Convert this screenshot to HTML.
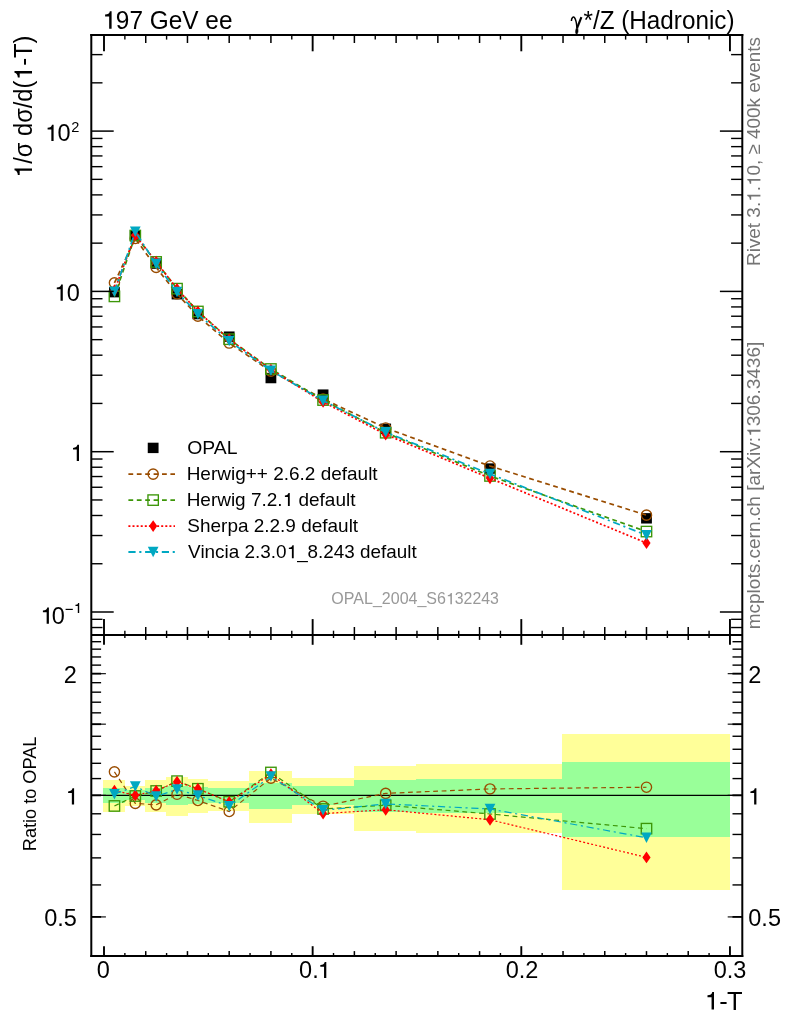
<!DOCTYPE html>
<html><head><meta charset="utf-8"><title>197 GeV ee 1-T</title>
<style>html,body{margin:0;padding:0;background:#fff}svg{display:block;will-change:transform}text{filter:grayscale(1);font-family:"Liberation Sans",sans-serif;fill:#000}.g{fill:#747474}.s{font-family:"Liberation Serif",serif}</style></head><body>
<svg width="786" height="1024" viewBox="0 0 786 1024">
<rect width="786" height="1024" fill="#fff"/>
<g shape-rendering="crispEdges">
<rect x="103.20" y="780.34" width="21.60" height="31.31" fill="#FFFF99"/>
<rect x="124.80" y="785.57" width="20.50" height="20.02" fill="#FFFF99"/>
<rect x="145.30" y="780.34" width="20.70" height="31.31" fill="#FFFF99"/>
<rect x="166.00" y="776.83" width="21.50" height="39.11" fill="#FFFF99"/>
<rect x="187.50" y="779.22" width="20.50" height="33.79" fill="#FFFF99"/>
<rect x="208.00" y="780.82" width="41.30" height="30.25" fill="#FFFF99"/>
<rect x="249.30" y="771.39" width="42.70" height="51.60" fill="#FFFF99"/>
<rect x="292.00" y="778.10" width="61.70" height="36.27" fill="#FFFF99"/>
<rect x="353.70" y="765.67" width="62.50" height="65.31" fill="#FFFF99"/>
<rect x="416.20" y="764.19" width="145.90" height="68.95" fill="#FFFF99"/>
<rect x="562.10" y="733.95" width="168.10" height="156.50" fill="#FFFF99"/>
<rect x="103.20" y="787.66" width="21.60" height="15.63" fill="#99FF99"/>
<rect x="124.80" y="790.37" width="20.50" height="10.00" fill="#99FF99"/>
<rect x="145.30" y="787.66" width="20.70" height="15.63" fill="#99FF99"/>
<rect x="166.00" y="785.82" width="21.50" height="19.50" fill="#99FF99"/>
<rect x="187.50" y="787.07" width="20.50" height="16.86" fill="#99FF99"/>
<rect x="208.00" y="787.91" width="41.30" height="15.10" fill="#99FF99"/>
<rect x="249.30" y="782.94" width="42.70" height="25.66" fill="#99FF99"/>
<rect x="292.00" y="786.49" width="61.70" height="18.09" fill="#99FF99"/>
<rect x="353.70" y="779.86" width="62.50" height="32.38" fill="#99FF99"/>
<rect x="416.20" y="779.06" width="145.90" height="34.15" fill="#99FF99"/>
<rect x="562.10" y="761.96" width="168.10" height="74.55" fill="#99FF99"/>
</g>
<line x1="91.3" y1="795.3" x2="742.3" y2="795.3" stroke="#000" stroke-width="1.3"/>
<polyline points="114.43,771.85 135.30,803.38 156.16,804.85 177.03,794.25 197.89,800.46 229.19,811.46 270.92,778.10 323.08,806.16 385.68,793.38 490.00,788.93 646.49,787.24" fill="none" stroke="#994C00" stroke-width="1.2" stroke-dasharray="4.8 3.6"/>
<circle cx="114.43" cy="771.85" r="5.1" fill="none" stroke="#994C00" stroke-width="1.35"/>
<circle cx="135.30" cy="803.38" r="5.1" fill="none" stroke="#994C00" stroke-width="1.35"/>
<circle cx="156.16" cy="804.85" r="5.1" fill="none" stroke="#994C00" stroke-width="1.35"/>
<circle cx="177.03" cy="794.25" r="5.1" fill="none" stroke="#994C00" stroke-width="1.35"/>
<circle cx="197.89" cy="800.46" r="5.1" fill="none" stroke="#994C00" stroke-width="1.35"/>
<circle cx="229.19" cy="811.46" r="5.1" fill="none" stroke="#994C00" stroke-width="1.35"/>
<circle cx="270.92" cy="778.10" r="5.1" fill="none" stroke="#994C00" stroke-width="1.35"/>
<circle cx="323.08" cy="806.16" r="5.1" fill="none" stroke="#994C00" stroke-width="1.35"/>
<circle cx="385.68" cy="793.38" r="5.1" fill="none" stroke="#994C00" stroke-width="1.35"/>
<circle cx="490.00" cy="788.93" r="5.1" fill="none" stroke="#994C00" stroke-width="1.35"/>
<circle cx="646.49" cy="787.24" r="5.1" fill="none" stroke="#994C00" stroke-width="1.35"/>
<polyline points="114.43,805.97 135.30,796.00 156.16,790.97 177.03,781.15 197.89,788.76 229.19,801.73 270.92,772.46 323.08,808.98 385.68,805.23 490.00,813.98 646.49,828.63" fill="none" stroke="#3C9608" stroke-width="1.2" stroke-dasharray="4.8 3.6"/>
<rect x="109.23" y="800.77" width="10.4" height="10.4" fill="none" stroke="#3C9608" stroke-width="1.35"/>
<rect x="130.10" y="790.80" width="10.4" height="10.4" fill="none" stroke="#3C9608" stroke-width="1.35"/>
<rect x="150.96" y="785.77" width="10.4" height="10.4" fill="none" stroke="#3C9608" stroke-width="1.35"/>
<rect x="171.83" y="775.95" width="10.4" height="10.4" fill="none" stroke="#3C9608" stroke-width="1.35"/>
<rect x="192.69" y="783.56" width="10.4" height="10.4" fill="none" stroke="#3C9608" stroke-width="1.35"/>
<rect x="223.99" y="796.53" width="10.4" height="10.4" fill="none" stroke="#3C9608" stroke-width="1.35"/>
<rect x="265.72" y="767.26" width="10.4" height="10.4" fill="none" stroke="#3C9608" stroke-width="1.35"/>
<rect x="317.88" y="803.78" width="10.4" height="10.4" fill="none" stroke="#3C9608" stroke-width="1.35"/>
<rect x="380.48" y="800.03" width="10.4" height="10.4" fill="none" stroke="#3C9608" stroke-width="1.35"/>
<rect x="484.80" y="808.78" width="10.4" height="10.4" fill="none" stroke="#3C9608" stroke-width="1.35"/>
<rect x="641.29" y="823.43" width="10.4" height="10.4" fill="none" stroke="#3C9608" stroke-width="1.35"/>
<polyline points="114.43,790.63 135.30,795.30 156.16,790.63 177.03,781.80 197.89,788.76 229.19,801.91 270.92,774.17 323.08,813.59 385.68,809.74 490.00,819.73 646.49,857.38" fill="none" stroke="#FF0000" stroke-width="1.2" stroke-dasharray="2 2.1"/>
<path d="M114.43 784.68L118.53 790.63L114.43 796.58L110.33 790.63Z" fill="#FF0000"/>
<path d="M135.30 789.35L139.40 795.30L135.30 801.25L131.20 795.30Z" fill="#FF0000"/>
<path d="M156.16 784.68L160.26 790.63L156.16 796.58L152.06 790.63Z" fill="#FF0000"/>
<path d="M177.03 775.85L181.13 781.80L177.03 787.75L172.93 781.80Z" fill="#FF0000"/>
<path d="M197.89 782.81L201.99 788.76L197.89 794.71L193.79 788.76Z" fill="#FF0000"/>
<path d="M229.19 795.96L233.29 801.91L229.19 807.86L225.09 801.91Z" fill="#FF0000"/>
<path d="M270.92 768.22L275.02 774.17L270.92 780.12L266.82 774.17Z" fill="#FF0000"/>
<path d="M323.08 807.64L327.18 813.59L323.08 819.54L318.98 813.59Z" fill="#FF0000"/>
<path d="M385.68 803.79L389.78 809.74L385.68 815.69L381.58 809.74Z" fill="#FF0000"/>
<path d="M490.00 813.78L494.10 819.73L490.00 825.68L485.90 819.73Z" fill="#FF0000"/>
<path d="M646.49 851.43L650.59 857.38L646.49 863.33L642.39 857.38Z" fill="#FF0000"/>
<polyline points="114.43,794.08 135.30,786.41 156.16,796.36 177.03,789.43 197.89,795.48 229.19,806.16 270.92,776.52 323.08,810.31 385.68,803.93 490.00,808.98 646.49,837.77" fill="none" stroke="#00A8C2" stroke-width="1.2" stroke-dasharray="7.2 3.7 2.1 3.7"/>
<path d="M109.08 788.88L119.78 788.88L114.43 799.38Z" fill="#00A8C2"/>
<path d="M129.95 781.21L140.65 781.21L135.30 791.71Z" fill="#00A8C2"/>
<path d="M150.81 791.16L161.51 791.16L156.16 801.66Z" fill="#00A8C2"/>
<path d="M171.68 784.23L182.38 784.23L177.03 794.73Z" fill="#00A8C2"/>
<path d="M192.54 790.28L203.24 790.28L197.89 800.78Z" fill="#00A8C2"/>
<path d="M223.84 800.96L234.54 800.96L229.19 811.46Z" fill="#00A8C2"/>
<path d="M265.57 771.32L276.27 771.32L270.92 781.82Z" fill="#00A8C2"/>
<path d="M317.73 805.11L328.43 805.11L323.08 815.61Z" fill="#00A8C2"/>
<path d="M380.33 798.73L391.03 798.73L385.68 809.23Z" fill="#00A8C2"/>
<path d="M484.65 803.78L495.35 803.78L490.00 814.28Z" fill="#00A8C2"/>
<path d="M641.14 832.57L651.84 832.57L646.49 843.07Z" fill="#00A8C2"/>
<rect x="109.03" y="286.97" width="10.8" height="10.4" fill="#000"/>
<rect x="129.90" y="230.06" width="10.8" height="10.4" fill="#000"/>
<rect x="150.76" y="258.44" width="10.8" height="10.4" fill="#000"/>
<rect x="171.63" y="289.04" width="10.8" height="10.4" fill="#000"/>
<rect x="192.49" y="308.88" width="10.8" height="10.4" fill="#000"/>
<rect x="223.79" y="331.46" width="10.8" height="10.4" fill="#000"/>
<rect x="265.52" y="372.86" width="10.8" height="10.4" fill="#000"/>
<rect x="317.68" y="389.43" width="10.8" height="10.4" fill="#000"/>
<rect x="380.28" y="423.57" width="10.8" height="10.4" fill="#000"/>
<rect x="484.60" y="463.35" width="10.8" height="10.4" fill="#000"/>
<rect x="641.09" y="513.13" width="10.8" height="10.4" fill="#000"/>
<polyline points="114.43,282.87 135.30,238.46 156.16,267.43 177.03,293.83 197.89,316.13 229.19,343.07 270.92,371.23 323.08,398.94 385.68,428.01 490.00,466.02 646.49,515.13" fill="none" stroke="#994C00" stroke-width="1.7" stroke-dasharray="4.8 3.6"/>
<circle cx="114.43" cy="282.87" r="5.1" fill="none" stroke="#994C00" stroke-width="1.35"/>
<circle cx="135.30" cy="238.46" r="5.1" fill="none" stroke="#994C00" stroke-width="1.35"/>
<circle cx="156.16" cy="267.43" r="5.1" fill="none" stroke="#994C00" stroke-width="1.35"/>
<circle cx="177.03" cy="293.83" r="5.1" fill="none" stroke="#994C00" stroke-width="1.35"/>
<circle cx="197.89" cy="316.13" r="5.1" fill="none" stroke="#994C00" stroke-width="1.35"/>
<circle cx="229.19" cy="343.07" r="5.1" fill="none" stroke="#994C00" stroke-width="1.35"/>
<circle cx="270.92" cy="371.23" r="5.1" fill="none" stroke="#994C00" stroke-width="1.35"/>
<circle cx="323.08" cy="398.94" r="5.1" fill="none" stroke="#994C00" stroke-width="1.35"/>
<circle cx="385.68" cy="428.01" r="5.1" fill="none" stroke="#994C00" stroke-width="1.35"/>
<circle cx="490.00" cy="466.02" r="5.1" fill="none" stroke="#994C00" stroke-width="1.35"/>
<circle cx="646.49" cy="515.13" r="5.1" fill="none" stroke="#994C00" stroke-width="1.35"/>
<polyline points="114.43,296.40 135.30,235.53 156.16,261.92 177.03,288.63 197.89,311.48 229.19,339.21 270.92,369.00 323.08,400.06 385.68,432.71 490.00,475.96 646.49,531.56" fill="none" stroke="#3C9608" stroke-width="1.7" stroke-dasharray="4.8 3.6"/>
<rect x="109.23" y="291.20" width="10.4" height="10.4" fill="none" stroke="#3C9608" stroke-width="1.35"/>
<rect x="130.10" y="230.33" width="10.4" height="10.4" fill="none" stroke="#3C9608" stroke-width="1.35"/>
<rect x="150.96" y="256.72" width="10.4" height="10.4" fill="none" stroke="#3C9608" stroke-width="1.35"/>
<rect x="171.83" y="283.43" width="10.4" height="10.4" fill="none" stroke="#3C9608" stroke-width="1.35"/>
<rect x="192.69" y="306.28" width="10.4" height="10.4" fill="none" stroke="#3C9608" stroke-width="1.35"/>
<rect x="223.99" y="334.01" width="10.4" height="10.4" fill="none" stroke="#3C9608" stroke-width="1.35"/>
<rect x="265.72" y="363.80" width="10.4" height="10.4" fill="none" stroke="#3C9608" stroke-width="1.35"/>
<rect x="317.88" y="394.86" width="10.4" height="10.4" fill="none" stroke="#3C9608" stroke-width="1.35"/>
<rect x="380.48" y="427.51" width="10.4" height="10.4" fill="none" stroke="#3C9608" stroke-width="1.35"/>
<rect x="484.80" y="470.76" width="10.4" height="10.4" fill="none" stroke="#3C9608" stroke-width="1.35"/>
<rect x="641.29" y="526.36" width="10.4" height="10.4" fill="none" stroke="#3C9608" stroke-width="1.35"/>
<polyline points="114.43,290.32 135.30,235.26 156.16,261.78 177.03,288.88 197.89,311.48 229.19,339.28 270.92,369.67 323.08,401.89 385.68,434.50 490.00,478.25 646.49,542.96" fill="none" stroke="#FF0000" stroke-width="1.7" stroke-dasharray="2 2.1"/>
<path d="M114.43 284.37L118.53 290.32L114.43 296.27L110.33 290.32Z" fill="#FF0000"/>
<path d="M135.30 229.31L139.40 235.26L135.30 241.21L131.20 235.26Z" fill="#FF0000"/>
<path d="M156.16 255.83L160.26 261.78L156.16 267.73L152.06 261.78Z" fill="#FF0000"/>
<path d="M177.03 282.93L181.13 288.88L177.03 294.83L172.93 288.88Z" fill="#FF0000"/>
<path d="M197.89 305.53L201.99 311.48L197.89 317.43L193.79 311.48Z" fill="#FF0000"/>
<path d="M229.19 333.33L233.29 339.28L229.19 345.23L225.09 339.28Z" fill="#FF0000"/>
<path d="M270.92 363.72L275.02 369.67L270.92 375.62L266.82 369.67Z" fill="#FF0000"/>
<path d="M323.08 395.94L327.18 401.89L323.08 407.84L318.98 401.89Z" fill="#FF0000"/>
<path d="M385.68 428.55L389.78 434.50L385.68 440.45L381.58 434.50Z" fill="#FF0000"/>
<path d="M490.00 472.30L494.10 478.25L490.00 484.20L485.90 478.25Z" fill="#FF0000"/>
<path d="M646.49 537.01L650.59 542.96L646.49 548.91L642.39 542.96Z" fill="#FF0000"/>
<polyline points="114.43,291.68 135.30,231.73 156.16,264.06 177.03,291.91 197.89,314.15 229.19,340.97 270.92,370.61 323.08,400.59 385.68,432.20 490.00,473.98 646.49,535.18" fill="none" stroke="#00A8C2" stroke-width="1.7" stroke-dasharray="7.2 3.7 2.1 3.7"/>
<path d="M109.08 286.48L119.78 286.48L114.43 296.98Z" fill="#00A8C2"/>
<path d="M129.95 226.53L140.65 226.53L135.30 237.03Z" fill="#00A8C2"/>
<path d="M150.81 258.86L161.51 258.86L156.16 269.36Z" fill="#00A8C2"/>
<path d="M171.68 286.71L182.38 286.71L177.03 297.21Z" fill="#00A8C2"/>
<path d="M192.54 308.95L203.24 308.95L197.89 319.45Z" fill="#00A8C2"/>
<path d="M223.84 335.77L234.54 335.77L229.19 346.27Z" fill="#00A8C2"/>
<path d="M265.57 365.41L276.27 365.41L270.92 375.91Z" fill="#00A8C2"/>
<path d="M317.73 395.39L328.43 395.39L323.08 405.89Z" fill="#00A8C2"/>
<path d="M380.33 427.00L391.03 427.00L385.68 437.50Z" fill="#00A8C2"/>
<path d="M484.65 468.78L495.35 468.78L490.00 479.28Z" fill="#00A8C2"/>
<path d="M641.14 529.98L651.84 529.98L646.49 540.48Z" fill="#00A8C2"/>
<g stroke="#000" fill="none">
<path d="M91.3 34.0V956.9" stroke-width="2"/>
<path d="M742.3 34.0V956.9" stroke-width="2"/>
<path d="M90.3 35.0H743.3" stroke-width="2"/>
<path d="M91.3 635.1H742.3" stroke-width="2"/>
<path d="M90.3 955.9H743.3" stroke-width="2"/>
<path d="M104.00 35.0v16.3" stroke-width="1.9"/>
<path d="M124.87 35.0v4.6" stroke-width="1.4"/>
<path d="M145.73 35.0v8.0" stroke-width="1.5"/>
<path d="M166.59 35.0v4.6" stroke-width="1.4"/>
<path d="M187.46 35.0v8.0" stroke-width="1.5"/>
<path d="M208.32 35.0v4.6" stroke-width="1.4"/>
<path d="M229.19 35.0v8.0" stroke-width="1.5"/>
<path d="M250.06 35.0v4.6" stroke-width="1.4"/>
<path d="M270.92 35.0v8.0" stroke-width="1.5"/>
<path d="M291.78 35.0v4.6" stroke-width="1.4"/>
<path d="M312.65 35.0v16.3" stroke-width="1.9"/>
<path d="M333.51 35.0v4.6" stroke-width="1.4"/>
<path d="M354.38 35.0v8.0" stroke-width="1.5"/>
<path d="M375.25 35.0v4.6" stroke-width="1.4"/>
<path d="M396.11 35.0v8.0" stroke-width="1.5"/>
<path d="M416.97 35.0v4.6" stroke-width="1.4"/>
<path d="M437.84 35.0v8.0" stroke-width="1.5"/>
<path d="M458.71 35.0v4.6" stroke-width="1.4"/>
<path d="M479.57 35.0v8.0" stroke-width="1.5"/>
<path d="M500.44 35.0v4.6" stroke-width="1.4"/>
<path d="M521.30 35.0v16.3" stroke-width="1.9"/>
<path d="M542.16 35.0v4.6" stroke-width="1.4"/>
<path d="M563.03 35.0v8.0" stroke-width="1.5"/>
<path d="M583.89 35.0v4.6" stroke-width="1.4"/>
<path d="M604.76 35.0v8.0" stroke-width="1.5"/>
<path d="M625.62 35.0v4.6" stroke-width="1.4"/>
<path d="M646.49 35.0v8.0" stroke-width="1.5"/>
<path d="M667.36 35.0v4.6" stroke-width="1.4"/>
<path d="M688.22 35.0v8.0" stroke-width="1.5"/>
<path d="M709.08 35.0v4.6" stroke-width="1.4"/>
<path d="M729.95 35.0v16.3" stroke-width="1.9"/>
<path d="M104.00 635.1v-16.0" stroke-width="1.9"/>
<path d="M124.87 635.1v-4.4" stroke-width="1.4"/>
<path d="M145.73 635.1v-8.1" stroke-width="1.5"/>
<path d="M166.59 635.1v-4.4" stroke-width="1.4"/>
<path d="M187.46 635.1v-8.1" stroke-width="1.5"/>
<path d="M208.32 635.1v-4.4" stroke-width="1.4"/>
<path d="M229.19 635.1v-8.1" stroke-width="1.5"/>
<path d="M250.06 635.1v-4.4" stroke-width="1.4"/>
<path d="M270.92 635.1v-8.1" stroke-width="1.5"/>
<path d="M291.78 635.1v-4.4" stroke-width="1.4"/>
<path d="M312.65 635.1v-16.0" stroke-width="1.9"/>
<path d="M333.51 635.1v-4.4" stroke-width="1.4"/>
<path d="M354.38 635.1v-8.1" stroke-width="1.5"/>
<path d="M375.25 635.1v-4.4" stroke-width="1.4"/>
<path d="M396.11 635.1v-8.1" stroke-width="1.5"/>
<path d="M416.97 635.1v-4.4" stroke-width="1.4"/>
<path d="M437.84 635.1v-8.1" stroke-width="1.5"/>
<path d="M458.71 635.1v-4.4" stroke-width="1.4"/>
<path d="M479.57 635.1v-8.1" stroke-width="1.5"/>
<path d="M500.44 635.1v-4.4" stroke-width="1.4"/>
<path d="M521.30 635.1v-16.0" stroke-width="1.9"/>
<path d="M542.16 635.1v-4.4" stroke-width="1.4"/>
<path d="M563.03 635.1v-8.1" stroke-width="1.5"/>
<path d="M583.89 635.1v-4.4" stroke-width="1.4"/>
<path d="M604.76 635.1v-8.1" stroke-width="1.5"/>
<path d="M625.62 635.1v-4.4" stroke-width="1.4"/>
<path d="M646.49 635.1v-8.1" stroke-width="1.5"/>
<path d="M667.36 635.1v-4.4" stroke-width="1.4"/>
<path d="M688.22 635.1v-8.1" stroke-width="1.5"/>
<path d="M709.08 635.1v-4.4" stroke-width="1.4"/>
<path d="M729.95 635.1v-16.0" stroke-width="1.9"/>
<path d="M104.00 635.1v9.7" stroke-width="1.9"/>
<path d="M124.87 635.1v2.9" stroke-width="1.4"/>
<path d="M145.73 635.1v4.8" stroke-width="1.5"/>
<path d="M166.59 635.1v2.9" stroke-width="1.4"/>
<path d="M187.46 635.1v4.8" stroke-width="1.5"/>
<path d="M208.32 635.1v2.9" stroke-width="1.4"/>
<path d="M229.19 635.1v4.8" stroke-width="1.5"/>
<path d="M250.06 635.1v2.9" stroke-width="1.4"/>
<path d="M270.92 635.1v4.8" stroke-width="1.5"/>
<path d="M291.78 635.1v2.9" stroke-width="1.4"/>
<path d="M312.65 635.1v9.7" stroke-width="1.9"/>
<path d="M333.51 635.1v2.9" stroke-width="1.4"/>
<path d="M354.38 635.1v4.8" stroke-width="1.5"/>
<path d="M375.25 635.1v2.9" stroke-width="1.4"/>
<path d="M396.11 635.1v4.8" stroke-width="1.5"/>
<path d="M416.97 635.1v2.9" stroke-width="1.4"/>
<path d="M437.84 635.1v4.8" stroke-width="1.5"/>
<path d="M458.71 635.1v2.9" stroke-width="1.4"/>
<path d="M479.57 635.1v4.8" stroke-width="1.5"/>
<path d="M500.44 635.1v2.9" stroke-width="1.4"/>
<path d="M521.30 635.1v9.7" stroke-width="1.9"/>
<path d="M542.16 635.1v2.9" stroke-width="1.4"/>
<path d="M563.03 635.1v4.8" stroke-width="1.5"/>
<path d="M583.89 635.1v2.9" stroke-width="1.4"/>
<path d="M604.76 635.1v4.8" stroke-width="1.5"/>
<path d="M625.62 635.1v2.9" stroke-width="1.4"/>
<path d="M646.49 635.1v4.8" stroke-width="1.5"/>
<path d="M667.36 635.1v2.9" stroke-width="1.4"/>
<path d="M688.22 635.1v4.8" stroke-width="1.5"/>
<path d="M709.08 635.1v2.9" stroke-width="1.4"/>
<path d="M729.95 635.1v9.7" stroke-width="1.9"/>
<path d="M104.00 955.9v-9.7" stroke-width="1.9"/>
<path d="M124.87 955.9v-2.9" stroke-width="1.4"/>
<path d="M145.73 955.9v-4.8" stroke-width="1.5"/>
<path d="M166.59 955.9v-2.9" stroke-width="1.4"/>
<path d="M187.46 955.9v-4.8" stroke-width="1.5"/>
<path d="M208.32 955.9v-2.9" stroke-width="1.4"/>
<path d="M229.19 955.9v-4.8" stroke-width="1.5"/>
<path d="M250.06 955.9v-2.9" stroke-width="1.4"/>
<path d="M270.92 955.9v-4.8" stroke-width="1.5"/>
<path d="M291.78 955.9v-2.9" stroke-width="1.4"/>
<path d="M312.65 955.9v-9.7" stroke-width="1.9"/>
<path d="M333.51 955.9v-2.9" stroke-width="1.4"/>
<path d="M354.38 955.9v-4.8" stroke-width="1.5"/>
<path d="M375.25 955.9v-2.9" stroke-width="1.4"/>
<path d="M396.11 955.9v-4.8" stroke-width="1.5"/>
<path d="M416.97 955.9v-2.9" stroke-width="1.4"/>
<path d="M437.84 955.9v-4.8" stroke-width="1.5"/>
<path d="M458.71 955.9v-2.9" stroke-width="1.4"/>
<path d="M479.57 955.9v-4.8" stroke-width="1.5"/>
<path d="M500.44 955.9v-2.9" stroke-width="1.4"/>
<path d="M521.30 955.9v-9.7" stroke-width="1.9"/>
<path d="M542.16 955.9v-2.9" stroke-width="1.4"/>
<path d="M563.03 955.9v-4.8" stroke-width="1.5"/>
<path d="M583.89 955.9v-2.9" stroke-width="1.4"/>
<path d="M604.76 955.9v-4.8" stroke-width="1.5"/>
<path d="M625.62 955.9v-2.9" stroke-width="1.4"/>
<path d="M646.49 955.9v-4.8" stroke-width="1.5"/>
<path d="M667.36 955.9v-2.9" stroke-width="1.4"/>
<path d="M688.22 955.9v-4.8" stroke-width="1.5"/>
<path d="M709.08 955.9v-2.9" stroke-width="1.4"/>
<path d="M729.95 955.9v-9.7" stroke-width="1.9"/>
<path d="M91.3 627.53h11.2" stroke-width="1.4"/>
<path d="M742.3 627.53h-11.2" stroke-width="1.4"/>
<path d="M91.3 619.33h11.2" stroke-width="1.4"/>
<path d="M742.3 619.33h-11.2" stroke-width="1.4"/>
<path d="M91.3 612.00h22.4" stroke-width="1.5"/>
<path d="M742.3 612.00h-22.4" stroke-width="1.5"/>
<path d="M91.3 563.74h11.2" stroke-width="1.4"/>
<path d="M742.3 563.74h-11.2" stroke-width="1.4"/>
<path d="M91.3 535.52h11.2" stroke-width="1.4"/>
<path d="M742.3 535.52h-11.2" stroke-width="1.4"/>
<path d="M91.3 515.49h11.2" stroke-width="1.4"/>
<path d="M742.3 515.49h-11.2" stroke-width="1.4"/>
<path d="M91.3 499.96h11.2" stroke-width="1.4"/>
<path d="M742.3 499.96h-11.2" stroke-width="1.4"/>
<path d="M91.3 487.26h11.2" stroke-width="1.4"/>
<path d="M742.3 487.26h-11.2" stroke-width="1.4"/>
<path d="M91.3 476.53h11.2" stroke-width="1.4"/>
<path d="M742.3 476.53h-11.2" stroke-width="1.4"/>
<path d="M91.3 467.23h11.2" stroke-width="1.4"/>
<path d="M742.3 467.23h-11.2" stroke-width="1.4"/>
<path d="M91.3 459.03h11.2" stroke-width="1.4"/>
<path d="M742.3 459.03h-11.2" stroke-width="1.4"/>
<path d="M91.3 451.70h22.4" stroke-width="1.5"/>
<path d="M742.3 451.70h-22.4" stroke-width="1.5"/>
<path d="M91.3 403.44h11.2" stroke-width="1.4"/>
<path d="M742.3 403.44h-11.2" stroke-width="1.4"/>
<path d="M91.3 375.22h11.2" stroke-width="1.4"/>
<path d="M742.3 375.22h-11.2" stroke-width="1.4"/>
<path d="M91.3 355.19h11.2" stroke-width="1.4"/>
<path d="M742.3 355.19h-11.2" stroke-width="1.4"/>
<path d="M91.3 339.66h11.2" stroke-width="1.4"/>
<path d="M742.3 339.66h-11.2" stroke-width="1.4"/>
<path d="M91.3 326.96h11.2" stroke-width="1.4"/>
<path d="M742.3 326.96h-11.2" stroke-width="1.4"/>
<path d="M91.3 316.23h11.2" stroke-width="1.4"/>
<path d="M742.3 316.23h-11.2" stroke-width="1.4"/>
<path d="M91.3 306.93h11.2" stroke-width="1.4"/>
<path d="M742.3 306.93h-11.2" stroke-width="1.4"/>
<path d="M91.3 298.73h11.2" stroke-width="1.4"/>
<path d="M742.3 298.73h-11.2" stroke-width="1.4"/>
<path d="M91.3 291.40h22.4" stroke-width="1.5"/>
<path d="M742.3 291.40h-22.4" stroke-width="1.5"/>
<path d="M91.3 243.14h11.2" stroke-width="1.4"/>
<path d="M742.3 243.14h-11.2" stroke-width="1.4"/>
<path d="M91.3 214.92h11.2" stroke-width="1.4"/>
<path d="M742.3 214.92h-11.2" stroke-width="1.4"/>
<path d="M91.3 194.89h11.2" stroke-width="1.4"/>
<path d="M742.3 194.89h-11.2" stroke-width="1.4"/>
<path d="M91.3 179.36h11.2" stroke-width="1.4"/>
<path d="M742.3 179.36h-11.2" stroke-width="1.4"/>
<path d="M91.3 166.66h11.2" stroke-width="1.4"/>
<path d="M742.3 166.66h-11.2" stroke-width="1.4"/>
<path d="M91.3 155.93h11.2" stroke-width="1.4"/>
<path d="M742.3 155.93h-11.2" stroke-width="1.4"/>
<path d="M91.3 146.63h11.2" stroke-width="1.4"/>
<path d="M742.3 146.63h-11.2" stroke-width="1.4"/>
<path d="M91.3 138.43h11.2" stroke-width="1.4"/>
<path d="M742.3 138.43h-11.2" stroke-width="1.4"/>
<path d="M91.3 131.10h22.4" stroke-width="1.5"/>
<path d="M742.3 131.10h-22.4" stroke-width="1.5"/>
<path d="M91.3 82.84h11.2" stroke-width="1.4"/>
<path d="M742.3 82.84h-11.2" stroke-width="1.4"/>
<path d="M91.3 54.62h11.2" stroke-width="1.4"/>
<path d="M742.3 54.62h-11.2" stroke-width="1.4"/>
<path d="M91.3 916.92h9.8" stroke-width="1.9"/>
<path d="M742.3 916.92h-9.8" stroke-width="1.9"/>
<path d="M100.6 916.92h5.3" stroke-width="1.1"/>
<path d="M733.0 916.92h-5.3" stroke-width="1.1"/>
<path d="M91.3 884.93h9.8" stroke-width="1.4"/>
<path d="M742.3 884.93h-9.8" stroke-width="1.4"/>
<path d="M91.3 857.88h9.8" stroke-width="1.4"/>
<path d="M742.3 857.88h-9.8" stroke-width="1.4"/>
<path d="M91.3 834.45h9.8" stroke-width="1.4"/>
<path d="M742.3 834.45h-9.8" stroke-width="1.4"/>
<path d="M91.3 813.79h9.8" stroke-width="1.4"/>
<path d="M742.3 813.79h-9.8" stroke-width="1.4"/>
<path d="M91.3 795.30h9.8" stroke-width="1.9"/>
<path d="M742.3 795.30h-9.8" stroke-width="1.9"/>
<path d="M100.6 795.30h5.3" stroke-width="1.1"/>
<path d="M733.0 795.30h-5.3" stroke-width="1.1"/>
<path d="M91.3 778.58h9.8" stroke-width="1.4"/>
<path d="M742.3 778.58h-9.8" stroke-width="1.4"/>
<path d="M91.3 763.31h9.8" stroke-width="1.4"/>
<path d="M742.3 763.31h-9.8" stroke-width="1.4"/>
<path d="M91.3 749.27h9.8" stroke-width="1.4"/>
<path d="M742.3 749.27h-9.8" stroke-width="1.4"/>
<path d="M91.3 736.26h9.8" stroke-width="1.4"/>
<path d="M742.3 736.26h-9.8" stroke-width="1.4"/>
<path d="M91.3 724.16h9.8" stroke-width="1.9"/>
<path d="M742.3 724.16h-9.8" stroke-width="1.9"/>
<path d="M100.6 724.16h5.3" stroke-width="1.1"/>
<path d="M733.0 724.16h-5.3" stroke-width="1.1"/>
<path d="M91.3 712.84h9.8" stroke-width="1.4"/>
<path d="M742.3 712.84h-9.8" stroke-width="1.4"/>
<path d="M91.3 702.20h9.8" stroke-width="1.4"/>
<path d="M742.3 702.20h-9.8" stroke-width="1.4"/>
<path d="M91.3 692.17h9.8" stroke-width="1.4"/>
<path d="M742.3 692.17h-9.8" stroke-width="1.4"/>
<path d="M91.3 682.68h9.8" stroke-width="1.4"/>
<path d="M742.3 682.68h-9.8" stroke-width="1.4"/>
<path d="M91.3 673.68h9.8" stroke-width="1.9"/>
<path d="M742.3 673.68h-9.8" stroke-width="1.9"/>
<path d="M100.6 673.68h5.3" stroke-width="1.1"/>
<path d="M733.0 673.68h-5.3" stroke-width="1.1"/>
<path d="M91.3 665.12h9.8" stroke-width="1.4"/>
<path d="M742.3 665.12h-9.8" stroke-width="1.4"/>
<path d="M91.3 656.96h9.8" stroke-width="1.4"/>
<path d="M742.3 656.96h-9.8" stroke-width="1.4"/>
<path d="M91.3 649.16h9.8" stroke-width="1.4"/>
<path d="M742.3 649.16h-9.8" stroke-width="1.4"/>
<path d="M91.3 641.69h9.8" stroke-width="1.4"/>
<path d="M742.3 641.69h-9.8" stroke-width="1.4"/>
</g>
<path fill="#000" d="M111.60 28.70V11.19H109.87Q109.33 14.32 105.11 14.54V16.38H109.17V28.70Z"/>
<text x="115.86" y="28.70" font-size="25" textLength="116.63" lengthAdjust="spacingAndGlyphs">97 GeV ee</text>
<g fill="none" stroke="#000"><path d="M571.4 20.9C571.5 17.6 573.3 16.1 574.5 17.6C575.8 19.4 576.6 23.6 577.0 27.6" stroke-width="1.5"/><path d="M581.4 17.1L577.1 28.0" stroke-width="2.1"/><path d="M577.1 26.6C578.6 30 578.3 33.2 576.6 34.4C575.0 33.2 575.3 30 577.1 26.6Z" fill="#000" stroke-width="0.6"/></g>
<text x="583.51" y="28.70" font-size="25" textLength="151.00" lengthAdjust="spacingAndGlyphs">*/Z (Hadronic)</text>
<g transform="translate(32.0 175.8) rotate(-90)">
<path fill="#000" d="M7.40 0.00V-17.51H5.67Q5.13 -14.38 0.91 -14.16V-12.32H4.97V0.00Z"/>
<text x="12.10" y="0.00" font-size="25" textLength="83.04" lengthAdjust="spacingAndGlyphs">/σ dσ/d(</text>
<path fill="#000" d="M104.80 0.00V-17.51H103.07Q102.53 -14.38 98.31 -14.16V-12.32H102.37V0.00Z"/>
<text x="109.95" y="0.00" font-size="25" textLength="30.22" lengthAdjust="spacingAndGlyphs">-T)</text>
</g>
<g transform="translate(36.3 0) rotate(-90)">
<text x="-851.17" y="0.00" font-size="19" textLength="114.57" lengthAdjust="spacingAndGlyphs">Ratio to OPAL</text>
</g>
<path fill="#000" d="M714.00 1009.50V991.92H712.26Q711.72 995.07 707.49 995.29V997.13H711.56V1009.50Z"/>
<text x="719.30" y="1009.50" font-size="25.5" text-anchor="start">-</text>
<text x="727.00" y="1009.50" font-size="25.5" text-anchor="start">T</text>
<text x="331.35" y="604.20" font-size="16.2" textLength="114.63" lengthAdjust="spacingAndGlyphs" style="fill:#999">OPAL_2004_S6</text>
<path fill="#999" d="M451.92 604.20V593.03H450.82Q450.48 595.03 447.79 595.17V596.34H450.37V604.20Z"/>
<text x="454.80" y="604.20" font-size="16.2" textLength="44.10" lengthAdjust="spacingAndGlyphs" style="fill:#999">32243</text>
<g transform="translate(760.4 0) rotate(-90)">
<text x="-265.95" y="0.00" font-size="19" textLength="64.08" lengthAdjust="spacingAndGlyphs" class="g">Rivet 3.</text>
<path fill="#747474" d="M-194.78 0.00V-13.10H-196.07Q-196.48 -10.75 -199.63 -10.59V-9.22H-196.60V0.00Z"/>
<text x="-191.36" y="0.00" font-size="19" textLength="5.25" lengthAdjust="spacingAndGlyphs" class="g">.</text>
<path fill="#747474" d="M-179.02 0.00V-13.10H-180.31Q-180.71 -10.75 -183.87 -10.59V-9.22H-180.84V0.00Z"/>
<text x="-175.59" y="0.00" font-size="19" textLength="138.57" lengthAdjust="spacingAndGlyphs" class="g">0, ≥ 400k events</text>
<text x="-629.36" y="0.00" font-size="19" textLength="192.41" lengthAdjust="spacingAndGlyphs" class="g">mcplots.cern.ch [arXiv:</text>
<path fill="#747474" d="M-429.82 0.00V-13.10H-431.11Q-431.52 -10.75 -434.67 -10.59V-9.22H-431.64V0.00Z"/>
<text x="-426.37" y="0.00" font-size="19" textLength="84.63" lengthAdjust="spacingAndGlyphs" class="g">306.3436]</text>
</g>
<path fill="#000" d="M53.60 140.90V124.70H52.00Q51.50 127.60 47.60 127.80V129.50H51.35V140.90Z"/>
<text x="57.48" y="140.90" font-size="23.5" text-anchor="start">0</text>
<text x="71.17" y="131.60" font-size="14.6" text-anchor="start">2</text>
<path fill="#000" d="M62.80 300.70V284.50H61.20Q60.70 287.40 56.80 287.60V289.30H60.55V300.70Z"/>
<text x="66.78" y="300.70" font-size="23.5" text-anchor="start">0</text>
<path fill="#000" d="M79.00 461.00V444.80H77.40Q76.90 447.70 73.00 447.90V449.60H76.75V461.00Z"/>
<path fill="#000" d="M48.90 623.70V607.50H47.30Q46.80 610.40 42.90 610.60V612.30H46.65V623.70Z"/>
<text x="51.78" y="623.70" font-size="23.5" text-anchor="start">0</text>
<path d="M65.6 609.40H72.8" stroke="#000" stroke-width="1.2"/>
<path fill="#000" d="M79.20 613.00V602.94H78.21Q77.90 604.74 75.47 604.86V605.92H77.80V613.00Z"/>
<text x="76.90" y="682.78" font-size="23.5" text-anchor="end">2</text>
<text x="748.30" y="682.78" font-size="23.5" text-anchor="start">2</text>
<text x="76.90" y="926.02" font-size="23.5" text-anchor="end">0.5</text>
<text x="748.30" y="926.02" font-size="23.5" text-anchor="start">0.5</text>
<path fill="#000" d="M74.10 804.50V788.30H72.50Q72.00 791.20 68.10 791.40V793.10H71.85V804.50Z"/>
<path fill="#000" d="M756.40 804.50V788.30H754.80Q754.30 791.20 750.40 791.40V793.10H754.15V804.50Z"/>
<text x="103.40" y="978.10" font-size="23.5" text-anchor="middle">0</text>
<text x="299.10" y="978.10" font-size="23.5" text-anchor="start">0.</text>
<path fill="#000" d="M326.30 978.10V961.90H324.70Q324.20 964.80 320.30 965.00V966.70H324.05V978.10Z"/>
<text x="522.00" y="978.10" font-size="23.5" text-anchor="middle">0.2</text>
<text x="730.00" y="978.10" font-size="23.5" text-anchor="middle">0.3</text>
<rect x="147.75" y="442.70" width="10.8" height="10.4" fill="#000"/>
<text x="187.31" y="453.80" font-size="19" textLength="50.22" lengthAdjust="spacingAndGlyphs">OPAL</text>
<line x1="128.4" y1="474.1" x2="175.0" y2="474.1" stroke="#994C00" stroke-width="1.8" stroke-dasharray="4.8 3.6"/>
<circle cx="153.15" cy="474.10" r="5.1" fill="none" stroke="#994C00" stroke-width="1.35"/>
<text x="186.64" y="479.60" font-size="19" textLength="191.00" lengthAdjust="spacingAndGlyphs">Herwig++ 2.6.2 default</text>
<line x1="128.4" y1="500.1" x2="175.0" y2="500.1" stroke="#3C9608" stroke-width="1.8" stroke-dasharray="4.8 3.6"/>
<rect x="147.95" y="494.90" width="10.4" height="10.4" fill="none" stroke="#3C9608" stroke-width="1.35"/>
<text x="186.64" y="506.10" font-size="19" textLength="95.99" lengthAdjust="spacingAndGlyphs">Herwig 7.2.</text>
<path fill="#000" d="M289.75 506.10V493.00H288.45Q288.05 495.35 284.90 495.51V496.88H287.93V506.10Z"/>
<text x="298.46" y="506.10" font-size="19" textLength="56.98" lengthAdjust="spacingAndGlyphs">default</text>
<line x1="128.4" y1="526.1" x2="175.0" y2="526.1" stroke="#FF0000" stroke-width="1.8" stroke-dasharray="2 2.1"/>
<path d="M153.15 520.15L157.25 526.10L153.15 532.05L149.05 526.10Z" fill="#FF0000"/>
<text x="187.34" y="531.90" font-size="19" textLength="170.80" lengthAdjust="spacingAndGlyphs">Sherpa 2.2.9 default</text>
<line x1="128.4" y1="552.0" x2="175.0" y2="552.0" stroke="#00A8C2" stroke-width="1.8" stroke-dasharray="7.2 3.7 2.1 3.7"/>
<path d="M147.80 546.80L158.50 546.80L153.15 557.30Z" fill="#00A8C2"/>
<text x="188.12" y="558.30" font-size="19" textLength="98.52" lengthAdjust="spacingAndGlyphs">Vincia 2.3.0</text>
<path fill="#000" d="M293.71 558.30V545.20H292.42Q292.01 547.55 288.86 547.71V549.08H291.89V558.30Z"/>
<text x="297.13" y="558.30" font-size="19" textLength="119.51" lengthAdjust="spacingAndGlyphs">_8.243 default</text>
</svg></body></html>
